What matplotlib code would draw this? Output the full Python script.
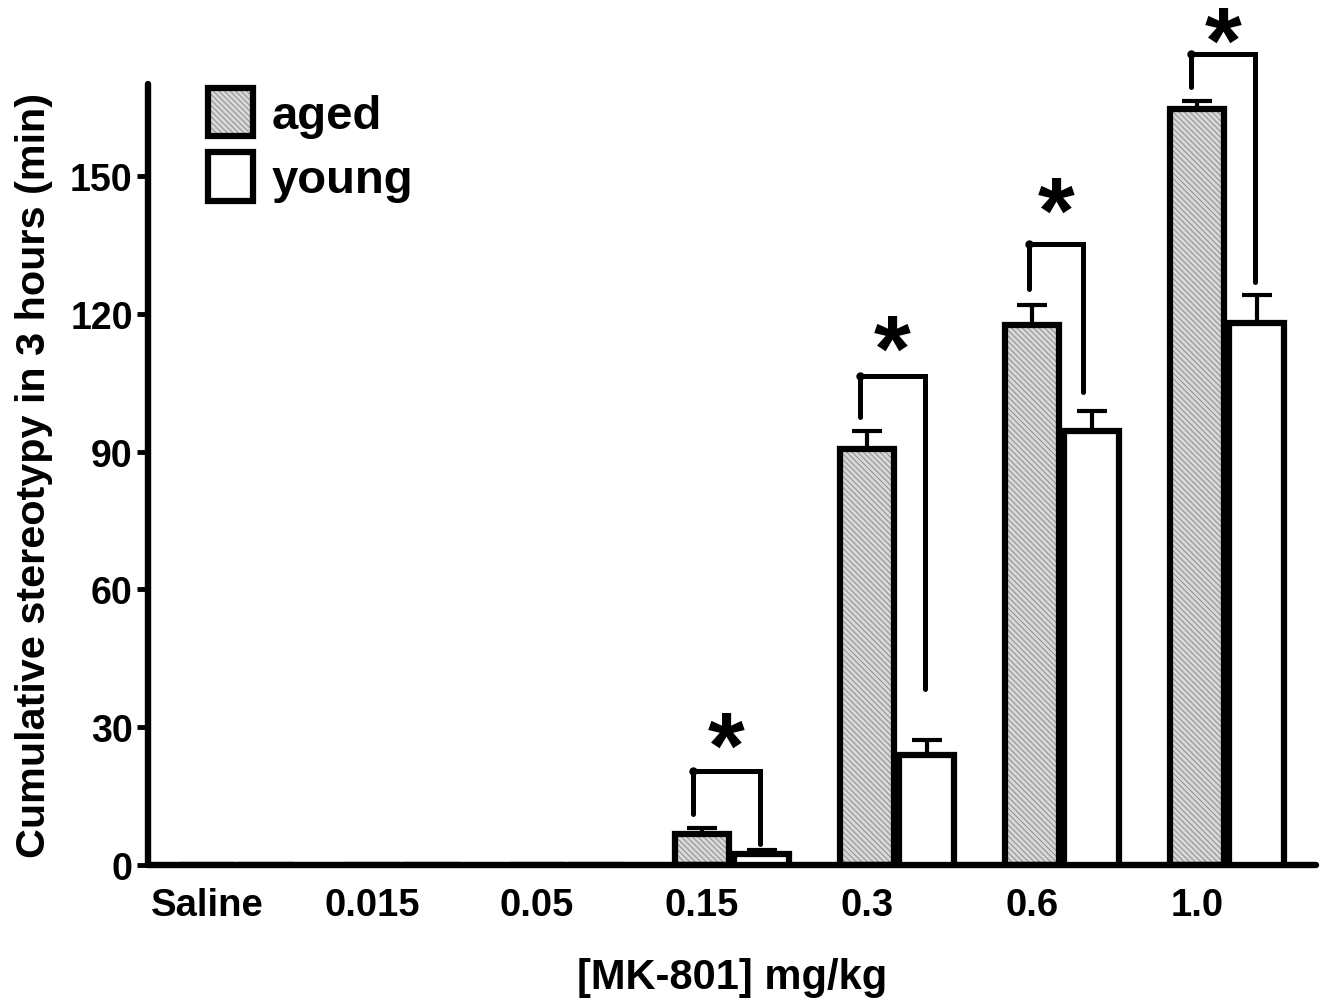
import matplotlib
matplotlib.use("Agg")
import matplotlib.pyplot as plt
import numpy as np

plt.rcParams['font.family'] = ['Liberation Sans', 'DejaVu Sans']
plt.rcParams['font.weight'] = 'bold'
plt.rcParams['hatch.linewidth'] = 0.7

doses = ["Saline", "0.015", "0.05", "0.15", "0.3", "0.6", "1.0"]
aged = [0, 0, 0, 6.7, 90.6, 117.6, 164.6]
aged_err = [0, 0, 0, 1.3, 3.9, 4.4, 1.8]
young = [0, 0, 0, 2.4, 24.0, 94.5, 118.0]
young_err = [0, 0, 0, 0.8, 3.2, 4.4, 6.0]

# significance brackets: dose index, top, left foot, right foot, star height
sig_idx = [3, 4, 5, 6]
sig_top = [20.5, 106.5, 135.2, 176.6]
sig_left = [11.0, 97.5, 125.4, 169.4]
sig_right = [4.6, 38.3, 103.0, 127.0]
sig_star = [29.6, 116.0, 145.9, 182.9]
sig_dx_left = [-0.055, -0.045, -0.02, -0.035]
sig_dx_right = [-0.01, -0.01, -0.05, -0.01]

fig = plt.figure(figsize=(13.28, 10.04), dpi=100)
ax = fig.add_axes([148/1328, 138/1004, (1316-148)/1328, (866-85)/1004])

x = np.arange(len(doses))
w = 0.33
off = 0.36

# error bars first (upper only)
ax.errorbar(x, aged, yerr=[np.zeros(len(x)), aged_err], fmt='none', ecolor='k',
            elinewidth=3, capsize=11, capthick=3, zorder=1)
ax.errorbar(x + off, young, yerr=[np.zeros(len(x)), young_err], fmt='none', ecolor='k',
            elinewidth=3, capsize=11, capthick=3, zorder=1)

fill = ax.bar(x, aged, w, color='#d8d8d8', edgecolor='#8c8c8c', hatch='\\\\\\\\\\\\',
              linewidth=0, zorder=2)
edge = ax.bar(x, aged, w, fill=False, edgecolor='k', linewidth=4.5, zorder=3)
yb = ax.bar(x + off, young, w, color='white', edgecolor='k', linewidth=4.5, zorder=3)

for i, t, l, r, s, dl, dr in zip(sig_idx, sig_top, sig_left, sig_right, sig_star,
                                 sig_dx_left, sig_dx_right):
    xl = i + dl
    xr = i + off + dr
    ax.plot([xl, xl, xr, xr], [l, t, t, r], color='k', lw=3.6,
            solid_capstyle='round', solid_joinstyle='miter', clip_on=False, zorder=4)
    ax.plot([xl], [t], 'o', color='k', ms=5, clip_on=False, zorder=4)
    fs = 68
    ax.annotate("*", xy=((xl + xr) / 2, s), xytext=(0, -0.5 * fs), textcoords='offset points',
                ha='center', va='baseline', fontsize=fs, fontweight='bold',
                annotation_clip=False)

ax.set_xlim(-0.358, 6.72)
ax.set_ylim(0, 170)
ax.set_yticks([0, 30, 60, 90, 120, 150])
ax.set_xticks(x)
ax.set_xticklabels(doses)

for s in ['top', 'right']:
    ax.spines[s].set_visible(False)
for s in ['left', 'bottom']:
    ax.spines[s].set_linewidth(4.6)
    ax.spines[s].set_capstyle('round')

ax.tick_params(axis='y', length=8, width=3.5, labelsize=27, pad=3)
ax.tick_params(axis='x', length=0, labelsize=27.5, pad=16)
for lab in ax.get_xticklabels() + ax.get_yticklabels():
    lab.set_fontweight('bold')

ax.set_xlabel("[MK-801] mg/kg", fontsize=30, fontweight='bold', labelpad=24)
ax.set_ylabel("Cumulative stereotypy in 3 hours (min)", fontsize=29.8, fontweight='bold',
              labelpad=12)

leg = ax.legend([(fill, edge), yb], ["aged", "young"], loc='upper left',
                bbox_to_anchor=(0.035, 1.019), frameon=False, fontsize=34,
                handlelength=0.95, handleheight=1.2, handletextpad=0.4,
                labelspacing=0.3, borderaxespad=0)
for t in leg.get_texts():
    t.set_fontweight('bold')

fig.savefig("out.png", dpi=100)
